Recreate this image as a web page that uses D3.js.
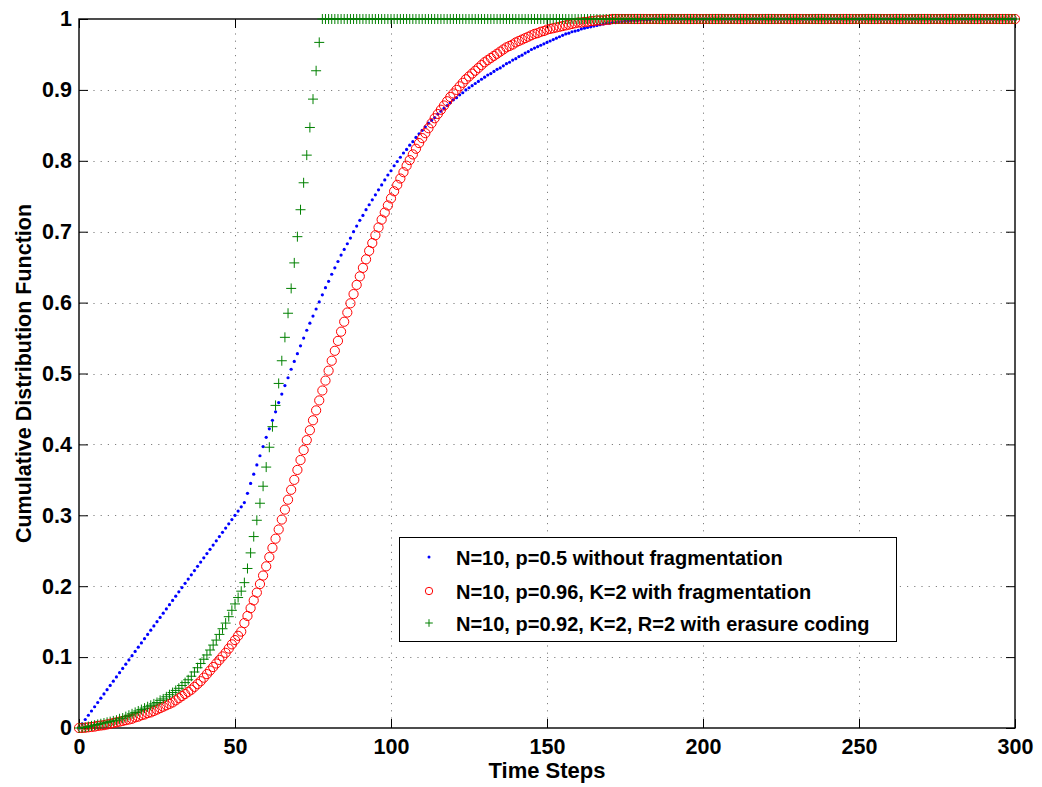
<!DOCTYPE html>
<html>
<head>
<meta charset="utf-8">
<script src="https://cdn.jsdelivr.net/npm/d3@7"></script>
<style>
  body { margin: 0; background: #fff; }
  text { font-family: 'Liberation Sans', Arial, Helvetica, sans-serif; font-weight: bold; fill: #000; }
</style>
</head>
<body>
<div id="chart"></div>
<script>
// Datos (un valor por paso de tiempo 0..300)
const timeSteps = d3.range(0, 301);

const xTickValues = [0, 50, 100, 150, 200, 250, 300];
const xTickLabels = ['0', '50', '100', '150', '200', '250', '300'];
const yTickValues = [0, 0.1, 0.2, 0.3, 0.4, 0.5, 0.6, 0.7, 0.8, 0.9, 1];
const yTickLabels = ['0', '0.1', '0.2', '0.3', '0.4', '0.5', '0.6', '0.7', '0.8', '0.9', '1'];

const seriesNames = [
  'N=10, p=0.5 without fragmentation',
  'N=10, p=0.96, K=2 with fragmentation',
  'N=10, p=0.92, K=2, R=2 with erasure coding'
];

// N=10, p=0.5 sin fragmentacion
const noFragmentation = [
  0, 0.006, 0.012, 0.018, 0.024, 0.030, 0.036, 0.042, 0.048, 0.054,
  0.060, 0.066, 0.072, 0.078, 0.084, 0.090, 0.096, 0.102, 0.108, 0.114,
  0.120, 0.126, 0.132, 0.138, 0.144, 0.150, 0.156, 0.162, 0.168, 0.174,
  0.180, 0.186, 0.192, 0.198, 0.204, 0.210, 0.216, 0.222, 0.228, 0.234,
  0.240, 0.246, 0.252, 0.258, 0.264, 0.270, 0.276, 0.282, 0.288, 0.294,
  0.300, 0.306, 0.312, 0.318, 0.331, 0.345, 0.358, 0.371, 0.384, 0.397,
  0.410, 0.422, 0.434, 0.446, 0.459, 0.471, 0.483, 0.494, 0.506, 0.517,
  0.528, 0.539, 0.550, 0.561, 0.571, 0.581, 0.591, 0.601, 0.611, 0.621,
  0.630, 0.640, 0.649, 0.658, 0.667, 0.675, 0.683, 0.691, 0.700, 0.708,
  0.716, 0.723, 0.731, 0.738, 0.745, 0.752, 0.759, 0.766, 0.773, 0.780,
  0.786, 0.793, 0.799, 0.805, 0.811, 0.816, 0.822, 0.827, 0.833, 0.838,
  0.843, 0.848, 0.853, 0.857, 0.861, 0.866, 0.870, 0.874, 0.878, 0.882,
  0.886, 0.889, 0.893, 0.896, 0.900, 0.903, 0.906, 0.909, 0.912, 0.915,
  0.918, 0.921, 0.923, 0.926, 0.929, 0.931, 0.934, 0.937, 0.939, 0.942,
  0.944, 0.947, 0.949, 0.952, 0.954, 0.957, 0.959, 0.961, 0.963, 0.965,
  0.967, 0.969, 0.971, 0.973, 0.975, 0.977, 0.979, 0.980, 0.982, 0.983,
  0.984, 0.986, 0.987, 0.988, 0.989, 0.990, 0.991, 0.992, 0.993, 0.994,
  0.994, 0.995, 0.995, 0.996, 0.996, 0.997, 0.997, 0.998, 0.998, 0.998,
  0.999, 0.999, 0.999, 0.999, 1, 1, 1, 1, 1, 1,
  1, 1, 1, 1, 1, 1, 1, 1, 1, 1,
  1, 1, 1, 1, 1, 1, 1, 1, 1, 1,
  1, 1, 1, 1, 1, 1, 1, 1, 1, 1,
  1, 1, 1, 1, 1, 1, 1, 1, 1, 1,
  1, 1, 1, 1, 1, 1, 1, 1, 1, 1,
  1, 1, 1, 1, 1, 1, 1, 1, 1, 1,
  1, 1, 1, 1, 1, 1, 1, 1, 1, 1,
  1, 1, 1, 1, 1, 1, 1, 1, 1, 1,
  1, 1, 1, 1, 1, 1, 1, 1, 1, 1,
  1, 1, 1, 1, 1, 1, 1, 1, 1, 1,
  1, 1, 1, 1, 1, 1, 1, 1, 1, 1,
  1
];

// N=10, p=0.96, K=2 con fragmentacion
const withFragmentation = [
  0, 0.0001, 0.0004, 0.001, 0.0015, 0.002, 0.003, 0.0035, 0.004, 0.005,
  0.006, 0.007, 0.008, 0.009, 0.010, 0.011, 0.012, 0.013, 0.015, 0.016,
  0.018, 0.019, 0.021, 0.022, 0.024, 0.026, 0.028, 0.030, 0.032, 0.034,
  0.036, 0.039, 0.042, 0.045, 0.048, 0.051, 0.054, 0.058, 0.062, 0.066,
  0.071, 0.076, 0.081, 0.086, 0.091, 0.096, 0.101, 0.106, 0.112, 0.118,
  0.124, 0.130, 0.136, 0.148, 0.158, 0.169, 0.180, 0.191, 0.203, 0.215,
  0.228, 0.241, 0.254, 0.267, 0.280, 0.294, 0.308, 0.322, 0.336, 0.350,
  0.364, 0.378, 0.392, 0.406, 0.420, 0.434, 0.448, 0.462, 0.476, 0.490,
  0.504, 0.518, 0.532, 0.546, 0.559, 0.573, 0.586, 0.599, 0.612, 0.625,
  0.637, 0.649, 0.661, 0.673, 0.684, 0.695, 0.706, 0.717, 0.727, 0.737,
  0.747, 0.757, 0.766, 0.775, 0.784, 0.793, 0.801, 0.809, 0.817, 0.825,
  0.832, 0.839, 0.846, 0.853, 0.860, 0.866, 0.872, 0.878, 0.884, 0.890,
  0.895, 0.900, 0.905, 0.910, 0.915, 0.919, 0.923, 0.927, 0.931, 0.935,
  0.939, 0.942, 0.945, 0.948, 0.951, 0.954, 0.957, 0.960, 0.962, 0.964,
  0.967, 0.969, 0.971, 0.973, 0.975, 0.977, 0.979, 0.980, 0.982, 0.983,
  0.985, 0.986, 0.987, 0.988, 0.989, 0.990, 0.991, 0.992, 0.993, 0.994,
  0.995, 0.995, 0.996, 0.996, 0.997, 0.997, 0.998, 0.998, 0.998, 0.999,
  0.999, 1, 1, 1, 1, 1, 1, 1, 1, 1,
  1, 1, 1, 1, 1, 1, 1, 1, 1, 1,
  1, 1, 1, 1, 1, 1, 1, 1, 1, 1,
  1, 1, 1, 1, 1, 1, 1, 1, 1, 1,
  1, 1, 1, 1, 1, 1, 1, 1, 1, 1,
  1, 1, 1, 1, 1, 1, 1, 1, 1, 1,
  1, 1, 1, 1, 1, 1, 1, 1, 1, 1,
  1, 1, 1, 1, 1, 1, 1, 1, 1, 1,
  1, 1, 1, 1, 1, 1, 1, 1, 1, 1,
  1, 1, 1, 1, 1, 1, 1, 1, 1, 1,
  1, 1, 1, 1, 1, 1, 1, 1, 1, 1,
  1, 1, 1, 1, 1, 1, 1, 1, 1, 1,
  1, 1, 1, 1, 1, 1, 1, 1, 1, 1,
  1
];

// N=10, p=0.92, K=2, R=2 con codigo de borrado
const erasureCoding = [
  0, 0.0005, 0.001, 0.002, 0.003, 0.004, 0.005, 0.006, 0.007, 0.008,
  0.009, 0.010, 0.011, 0.013, 0.014, 0.016, 0.018, 0.020, 0.022, 0.024,
  0.026, 0.028, 0.030, 0.032, 0.034, 0.036, 0.039, 0.041, 0.044, 0.047,
  0.050, 0.053, 0.056, 0.060, 0.064, 0.068, 0.073, 0.079, 0.085, 0.091,
  0.097, 0.103, 0.110, 0.117, 0.124, 0.132, 0.140, 0.148, 0.157, 0.166,
  0.175, 0.184, 0.193, 0.205, 0.225, 0.247, 0.270, 0.293, 0.317, 0.341,
  0.368, 0.396, 0.425, 0.455, 0.486, 0.518, 0.551, 0.585, 0.620, 0.656,
  0.693, 0.731, 0.769, 0.808, 0.847, 0.887, 0.927, 0.967, 1, 1,
  1, 1, 1, 1, 1, 1, 1, 1, 1, 1,
  1, 1, 1, 1, 1, 1, 1, 1, 1, 1,
  1, 1, 1, 1, 1, 1, 1, 1, 1, 1,
  1, 1, 1, 1, 1, 1, 1, 1, 1, 1,
  1, 1, 1, 1, 1, 1, 1, 1, 1, 1,
  1, 1, 1, 1, 1, 1, 1, 1, 1, 1,
  1, 1, 1, 1, 1, 1, 1, 1, 1, 1,
  1, 1, 1, 1, 1, 1, 1, 1, 1, 1,
  1, 1, 1, 1, 1, 1, 1, 1, 1, 1,
  1, 1, 1, 1, 1, 1, 1, 1, 1, 1,
  1, 1, 1, 1, 1, 1, 1, 1, 1, 1,
  1, 1, 1, 1, 1, 1, 1, 1, 1, 1,
  1, 1, 1, 1, 1, 1, 1, 1, 1, 1,
  1, 1, 1, 1, 1, 1, 1, 1, 1, 1,
  1, 1, 1, 1, 1, 1, 1, 1, 1, 1,
  1, 1, 1, 1, 1, 1, 1, 1, 1, 1,
  1, 1, 1, 1, 1, 1, 1, 1, 1, 1,
  1, 1, 1, 1, 1, 1, 1, 1, 1, 1,
  1, 1, 1, 1, 1, 1, 1, 1, 1, 1,
  1, 1, 1, 1, 1, 1, 1, 1, 1, 1,
  1, 1, 1, 1, 1, 1, 1, 1, 1, 1,
  1, 1, 1, 1, 1, 1, 1, 1, 1, 1,
  1
];

// Dimensiones
const width = 1042;
const height = 787;
const plotLeft = 79;
const plotRight = 1015;
const plotTop = 19;
const plotBottom = 728;
const tickLen = 9;

const blue = '#0000ff';
const red = '#ff0000';
const green = '#008000';

const svg = d3.select('#chart')
  .append('svg')
  .attr('width', width)
  .attr('height', height);

const xScale = d3.scaleLinear().domain([0, 300]).range([plotLeft, plotRight]);
const yScale = d3.scaleLinear().domain([0, 1]).range([plotBottom, plotTop]);

// Rejilla punteada
const grid = svg.append('g').attr('class', 'grid');
grid.selectAll('.vgrid')
  .data(xTickValues.slice(1, -1))
  .enter()
  .append('line')
  .attr('x1', d => Math.round(xScale(d)) + 0.5)
  .attr('x2', d => Math.round(xScale(d)) + 0.5)
  .attr('y1', plotTop)
  .attr('y2', plotBottom)
  .attr('stroke', '#808080')
  .attr('stroke-dasharray', '1.2,6');
grid.selectAll('.hgrid')
  .data(yTickValues.slice(1, -1))
  .enter()
  .append('line')
  .attr('y1', d => Math.round(yScale(d)) + 0.5)
  .attr('y2', d => Math.round(yScale(d)) + 0.5)
  .attr('x1', plotLeft)
  .attr('x2', plotRight)
  .attr('stroke', '#808080')
  .attr('stroke-dasharray', '1.2,6');

// Ejes (ticks hacia dentro, en los cuatro lados)
const xAxis = svg.append('g')
  .attr('transform', `translate(0, ${plotBottom})`)
  .call(d3.axisBottom(xScale)
    .tickValues(xTickValues)
    .tickFormat((d, i) => xTickLabels[i])
    .tickSizeInner(-tickLen)
    .tickSizeOuter(0)
    .tickPadding(11));

const yAxis = svg.append('g')
  .attr('transform', `translate(${plotLeft}, 0)`)
  .call(d3.axisLeft(yScale)
    .tickValues(yTickValues)
    .tickFormat((d, i) => yTickLabels[i])
    .tickSizeInner(-tickLen)
    .tickSizeOuter(0)
    .tickPadding(7));

const xAxisTop = svg.append('g')
  .attr('transform', `translate(0, ${plotTop})`)
  .call(d3.axisTop(xScale)
    .tickValues(xTickValues)
    .tickFormat('')
    .tickSizeInner(-tickLen)
    .tickSizeOuter(0));

const yAxisRight = svg.append('g')
  .attr('transform', `translate(${plotRight}, 0)`)
  .call(d3.axisRight(yScale)
    .tickValues(yTickValues)
    .tickFormat('')
    .tickSizeInner(-tickLen)
    .tickSizeOuter(0));

svg.selectAll('.domain').remove();
svg.selectAll('.tick line').attr('stroke', '#000').attr('stroke-width', 1);
svg.selectAll('.tick text')
  .style('font-size', '21.5px')
  .style('font-weight', 'bold')
  .attr('fill', '#000');

// Caja de los ejes
svg.append('rect')
  .attr('x', plotLeft)
  .attr('y', plotTop)
  .attr('width', plotRight - plotLeft)
  .attr('height', plotBottom - plotTop)
  .attr('fill', 'none')
  .attr('stroke', '#000')
  .attr('stroke-width', 1.4);

// Titulos de los ejes
svg.append('text')
  .attr('x', (plotLeft + plotRight) / 2)
  .attr('y', 778)
  .attr('text-anchor', 'middle')
  .style('font-size', '22px')
  .text('Time Steps');

svg.append('text')
  .attr('transform', `translate(31, ${(plotTop + plotBottom) / 2}) rotate(-90)`)
  .attr('text-anchor', 'middle')
  .style('font-size', '21.5px')
  .text('Cumulative Distribution Function');

// Marcadores
const plusPath = (s) => `M${-s},0H${s}M0,${-s}V${s}`;

const toPoints = (values) => values.map((v, i) => ({ t: timeSteps[i], v: v }));

svg.append('g').attr('class', 'series-blue')
  .selectAll('circle')
  .data(toPoints(noFragmentation))
  .enter()
  .append('circle')
  .attr('cx', d => xScale(d.t))
  .attr('cy', d => yScale(d.v))
  .attr('r', 1.6)
  .attr('fill', blue);

svg.append('g').attr('class', 'series-red')
  .selectAll('circle')
  .data(toPoints(withFragmentation))
  .enter()
  .append('circle')
  .attr('cx', d => xScale(d.t))
  .attr('cy', d => yScale(d.v))
  .attr('r', 4.6)
  .attr('fill', 'none')
  .attr('stroke', red)
  .attr('stroke-width', 1);

svg.append('g').attr('class', 'series-green')
  .selectAll('path')
  .data(toPoints(erasureCoding))
  .enter()
  .append('path')
  .attr('transform', d => `translate(${xScale(d.t)}, ${yScale(d.v)})`)
  .attr('d', plusPath(5))
  .attr('fill', 'none')
  .attr('stroke', green)
  .attr('stroke-width', 1);

// Leyenda
const legend = svg.append('g').attr('class', 'legend');
legend.append('rect')
  .attr('x', 399.5)
  .attr('y', 537.5)
  .attr('width', 497)
  .attr('height', 104)
  .attr('fill', '#fff')
  .attr('stroke', '#000')
  .attr('stroke-width', 1);

const legendRowsY = [557, 591, 623];
const markerX = 429;
const labelX = 456;

legend.append('circle')
  .attr('cx', markerX).attr('cy', legendRowsY[0])
  .attr('r', 1.5).attr('fill', blue);
legend.append('circle')
  .attr('cx', markerX).attr('cy', legendRowsY[1])
  .attr('r', 3.7).attr('fill', 'none').attr('stroke', red);
legend.append('path')
  .attr('transform', `translate(${markerX}, ${legendRowsY[2]})`)
  .attr('d', plusPath(3.8))
  .attr('stroke', green);

legend.selectAll('.legend-label')
  .data(seriesNames)
  .enter()
  .append('text')
  .attr('class', 'legend-label')
  .attr('x', labelX)
  .attr('y', (d, i) => legendRowsY[i] + 7.5)
  .style('font-size', '20px')
  .text(d => d);
</script>
</body>
</html>
